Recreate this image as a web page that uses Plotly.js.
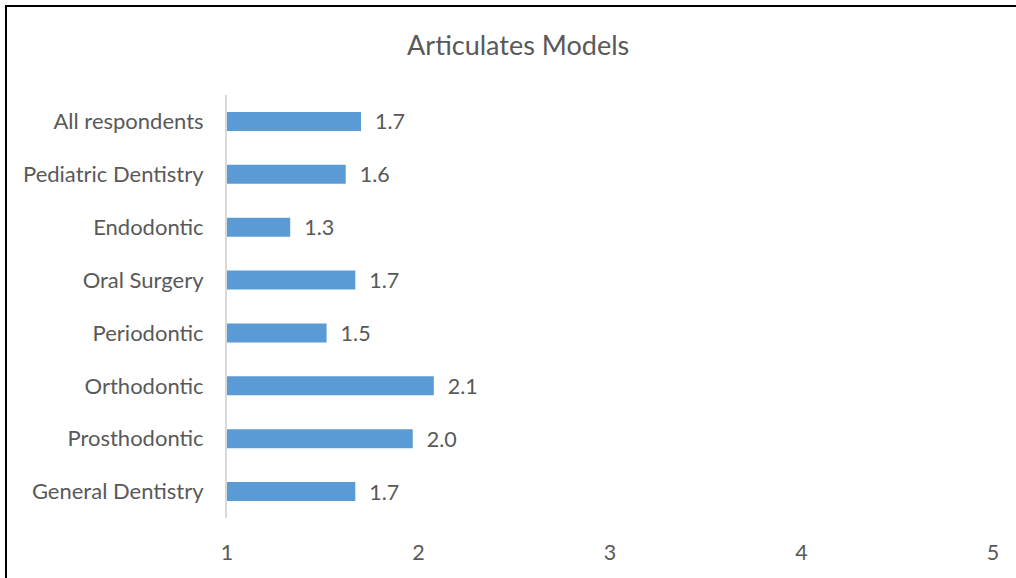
<!DOCTYPE html>
<html>
<head>
<meta charset="utf-8">
<script src="https://cdn.plot.ly/plotly-3.0.1.min.js"></script>
<style>
html,body{margin:0;padding:0;background:#fff;}
#wrap{position:relative;width:1016px;height:578px;overflow:hidden;}
#chart{position:absolute;left:0;top:0;width:1016px;height:578px;}
#frame{position:absolute;left:5px;top:5px;width:1100px;height:700px;border-top:2px solid #000;border-left:2px solid #000;pointer-events:none;}
</style>
</head>
<body>
<div id="wrap"><div id="chart"></div><div id="frame"></div></div>
<script>
const categories = ["General Dentistry","Prosthodontic","Orthodontic","Periodontic","Oral Surgery","Endodontic","Pediatric Dentistry","All respondents"];
const values = [1.67, 1.97, 2.08, 1.52, 1.67, 1.33, 1.62, 1.70];
const labels = ["1.7","2.0","2.1","1.5","1.7","1.3","1.6","1.7"];
const xTicks = [1,2,3,4,5];

const fontFam = "Lato, 'Open Sans', sans-serif";
const trace = {
  type: 'bar',
  orientation: 'h',
  y: categories,
  x: values,
  text: labels.map(t => '\u00a0\u00a0' + t),
  textposition: 'outside',
  constraintext: 'none',
  textfont: {family: fontFam, size: 21.5, color: '#595959'},
  outsidetextfont: {family: fontFam, size: 21.5, color: '#595959'},
  marker: {color: '#5B9BD5'},
  width: 0.36,
  hoverinfo: 'none',
  cliponaxis: true
};
const layout = {
  width: 1016, height: 578,
  paper_bgcolor: 'rgba(0,0,0,0)', plot_bgcolor: 'rgba(0,0,0,0)',
  margin: {l: 227, r: 23, t: 94.5, b: 59.5},
  title: {text: 'Articulates Models', font: {family: fontFam, size: 27, color: '#595959'}, x: 0.51, xanchor: 'center', y: 0.922, yanchor: 'middle'},
  showlegend: false,
  xaxis: {range: [1,5], tickvals: xTicks, ticktext: xTicks.map(String), showgrid: false, zeroline: false, showline: false,
          ticks: '', ticklabelstandoff: 19, tickfont: {family: fontFam, size: 21.5, color: '#595959'}},
  yaxis: {categoryorder: 'array', categoryarray: categories, range: [-0.5, 7.5], showgrid: false, zeroline: false,
          showline: true, linecolor: '#D9D9D9', linewidth: 2, ticks: '', ticklabelstandoff: 17,
          tickfont: {family: fontFam, size: 22, color: '#595959'}}
};
Plotly.newPlot('chart', [trace], layout, {staticPlot: true, displayModeBar: false});
</script>
</body>
</html>
